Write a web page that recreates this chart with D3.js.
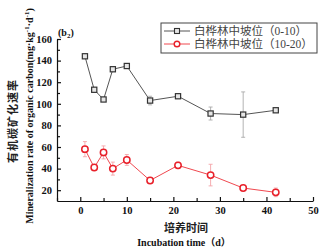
<!DOCTYPE html>
<html>
<head>
<meta charset="utf-8">
<script src="https://cdn.jsdelivr.net/npm/d3@7"></script>
<style>
  body { margin: 0; background: #fff; }
  text { font-family: "Liberation Serif", "Noto Sans CJK SC", serif; }
</style>
</head>
<body>
<svg width="324" height="250"></svg>
<script>
// incubation days
const days = [1, 3, 5, 7, 10, 15, 21, 28, 35, 42];
// series 0-10
const rateTop = [144, 113, 104, 132, 135, 103, 107, 91, 90, 94];
const errTop = [1, 1, 1, 1, 1, 4, 1, 6, 21, 2];
// series 10-20
const rateSub = [58, 41, 55, 40, 48, 29, 43, 34, 22, 18];
const errSub = [7, 2, 6, 6, 5, 1, 3, 10, 2, 4];

const seriesNames = ['白桦林中坡位（0-10）', '白桦林中坡位（10-20）'];
const xTicks = [0, 10, 20, 30, 40, 50];
const yTicks = [20, 40, 60, 80, 100, 120, 140, 160];

const svg = d3.select('svg');

const x = d3.scaleLinear().domain([-5, 50]).range([57, 313]);
const y = d3.scaleLinear().domain([10, 160]).range([201, 39]);

/* ---------- axes ---------- */
svg.append('g').attr('transform', 'translate(0,201)')
    .call(d3.axisBottom(x).tickValues(xTicks).tickSizeInner(-4).tickSizeOuter(0).tickPadding(6));
svg.append('g').attr('transform', 'translate(0,201)')
    .call(d3.axisBottom(x).tickValues([-5, 5, 15, 25, 35, 45]).tickSizeInner(-3).tickSizeOuter(0).tickFormat(''))
    .select('.domain').remove();

svg.append('g').attr('transform', 'translate(57,0)')
    .call(d3.axisLeft(y).tickValues(yTicks).tickSizeInner(-4).tickSizeOuter(0).tickPadding(5));
svg.append('g').attr('transform', 'translate(57,0)')
    .call(d3.axisLeft(y).tickValues([30, 50, 70, 90, 110, 130, 150]).tickSizeInner(-3).tickSizeOuter(0).tickFormat(''))
    .select('.domain').remove();

svg.selectAll('.domain, .tick line').attr('stroke', '#111').attr('stroke-width', 1.2);
svg.selectAll('.tick text')
    .attr('font-family', '"Liberation Serif", serif')
    .attr('font-weight', 'bold')
    .attr('font-size', 10.5)
    .attr('fill', '#111');

/* ---------- series ---------- */
function drawSeries(vals, errs, lineCol, errCol, kind) {
    const g = svg.append('g');
    const pts = days.map((d, i) => ({ d: d, v: vals[i], e: errs[i] }));

    g.selectAll('.err').data(pts).enter().append('g').each(function (p) {
        const s = d3.select(this);
        s.append('line').attr('x1', x(p.d)).attr('x2', x(p.d))
            .attr('y1', y(p.v + p.e)).attr('y2', y(p.v - p.e));
        s.append('line').attr('x1', x(p.d) - 2).attr('x2', x(p.d) + 2)
            .attr('y1', y(p.v + p.e)).attr('y2', y(p.v + p.e));
        s.append('line').attr('x1', x(p.d) - 2).attr('x2', x(p.d) + 2)
            .attr('y1', y(p.v - p.e)).attr('y2', y(p.v - p.e));
        s.selectAll('line').attr('stroke', errCol).attr('stroke-width', 0.9);
    });

    g.append('path').datum(pts)
        .attr('d', d3.line().x(p => x(p.d)).y(p => y(p.v)))
        .attr('fill', 'none').attr('stroke', lineCol).attr('stroke-width', 1);

    if (kind === 'square') {
        g.selectAll('.m').data(pts).enter().append('rect')
            .attr('x', p => x(p.d) - 2.6).attr('y', p => y(p.v) - 2.6)
            .attr('width', 5.2).attr('height', 5.2)
            .attr('fill', '#e6e6e6').attr('stroke', '#333').attr('stroke-width', 1.2);
    } else {
        g.selectAll('.m').data(pts).enter().append('circle')
            .attr('cx', p => x(p.d)).attr('cy', p => y(p.v)).attr('r', 3.2)
            .attr('fill', '#fff').attr('stroke', '#e8202a').attr('stroke-width', 1.5);
    }
}

drawSeries(rateTop, errTop, '#555', '#aaa', 'square');
drawSeries(rateSub, errSub, '#f0484f', '#f4a4a8', 'circle');

/* ---------- legend ---------- */
const lg = svg.append('g');
lg.append('rect').attr('x', 161).attr('y', 23).attr('width', 156).attr('height', 30)
    .attr('fill', '#fff').attr('stroke', '#444').attr('stroke-width', 1);
seriesNames.forEach((name, i) => {
    const ly = 31 + i * 13;
    lg.append('line').attr('x1', 164).attr('x2', 190).attr('y1', ly).attr('y2', ly)
        .attr('stroke', i === 0 ? '#555' : '#f0484f').attr('stroke-width', 1);
    if (i === 0) {
        lg.append('rect').attr('x', 177 - 2.5).attr('y', ly - 2.5).attr('width', 5).attr('height', 5)
            .attr('fill', '#e6e6e6').attr('stroke', '#333').attr('stroke-width', 1.1);
    } else {
        lg.append('circle').attr('cx', 177).attr('cy', ly).attr('r', 2.8)
            .attr('fill', '#fff').attr('stroke', '#e8202a').attr('stroke-width', 1.4);
    }
    lg.append('text').attr('x', 194).attr('y', ly + 4).attr('font-size', 11.5)
        .attr('fill', '#444').text(name);
});

/* ---------- labels ---------- */
svg.append('text').attr('x', 58).attr('y', 36).attr('font-size', 10).attr('font-weight', 'bold')
    .attr('fill', '#111').html('(b<tspan font-size="7" dy="2">2</tspan><tspan dy="-2">)</tspan>');

svg.append('text').attr('transform', 'translate(17,121) rotate(-90)')
    .attr('text-anchor', 'middle').attr('font-size', 11).attr('letter-spacing', 1)
    .attr('font-weight', 'bold')
    .attr('fill', '#222').attr('font-family', '"Noto Sans CJK SC", sans-serif').text('有机碳矿化速率');

svg.append('text').attr('transform', 'translate(33,116) rotate(-90)')
    .attr('text-anchor', 'middle').attr('font-size', 10).attr('font-weight', 'bold')
    .attr('fill', '#111')
    .html('Mineralization rate of organic carbon(mg·kg<tspan font-size="7" dy="-4">-1</tspan><tspan dy="4">·d</tspan><tspan font-size="7" dy="-4">-1</tspan><tspan dy="4">)</tspan>');

svg.append('text').attr('x', 186).attr('y', 232).attr('text-anchor', 'middle')
    .attr('font-size', 11).attr('font-weight', 'bold').attr('fill', '#222')
    .attr('font-family', '"Noto Sans CJK SC", sans-serif').text('培养时间');

svg.append('text').attr('x', 184).attr('y', 246).attr('text-anchor', 'middle')
    .attr('font-size', 10).attr('font-weight', 'bold').attr('fill', '#111')
    .text('Incubation time（d）');
</script>
</body>
</html>
